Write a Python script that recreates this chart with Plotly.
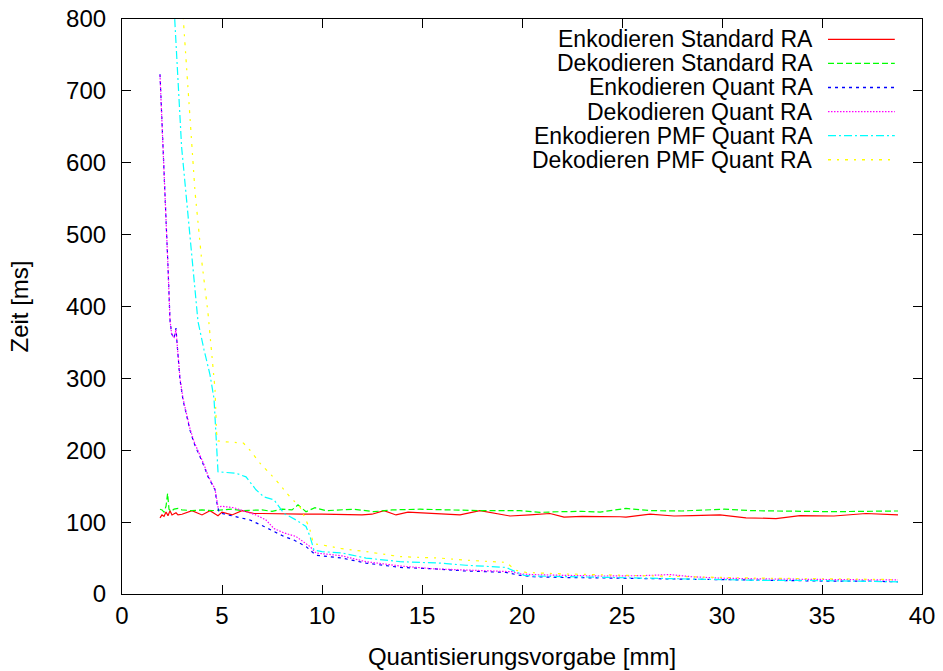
import plotly.graph_objects as go

# ---------------- data ----------------
enc_std_x = [1.9, 2.0, 2.1, 2.2, 2.3, 2.4, 2.5, 2.6, 2.7, 2.8, 3.0, 3.5, 4.0, 4.4, 4.8, 5.0, 5.5, 6.0, 6.2, 6.6,
             7.0, 8.0, 9.0, 10.0, 11.0, 12.0, 12.5, 13.1, 13.7, 14.3, 15.0, 16.0, 16.9, 17.9, 19.4, 20.4, 21.4,
             22.1, 23.0, 24.9, 25.2, 26.4, 27.6, 28.5, 29.9, 31.2, 32.7, 33.9, 35.6, 37.2, 38.8]
enc_std_y = [106, 110, 108, 114, 109, 116, 110, 112, 113, 110, 111, 116, 110, 116, 109, 114, 110, 116, 115, 112,
             112, 111, 111, 111, 110, 110, 111, 116, 110, 114, 113, 111, 110, 116, 108.5, 110, 112,
             107, 108, 107.5, 107, 111, 108.5, 109, 110, 106, 105, 109, 108.5, 112, 110]

dec_std_x = [1.9, 2.0, 2.1, 2.2, 2.28, 2.35, 2.45, 2.6, 2.8, 3.0, 3.5, 4.0, 4.5, 5.0, 5.5, 6.0, 6.5, 7.0, 7.5,
             8.0, 8.5, 8.8, 9.2, 9.65, 10.2, 11.0, 11.6, 12.6, 13.5, 14.9, 16.0, 17.9, 19.9, 20.9, 21.9, 23.0,
             23.9, 25.2, 26.4, 28.0, 30.1, 31.5, 32.7, 34.0, 35.6, 37.0, 38.8]
dec_std_y = [118, 117, 114, 122, 140, 118, 115, 118, 119, 117, 116, 117, 116, 117, 118, 116, 116, 117, 115,
             118, 117, 124, 114.5, 120, 116, 117, 118, 114.5, 117, 118, 117, 116, 116, 113.6, 114.5, 115,
             114, 119, 116, 115.5, 118, 116, 115.5, 115, 114.5, 115, 115.5]

enc_quant_x = [1.9, 2.0, 2.1, 2.2, 2.3, 2.4, 2.48, 2.6, 2.7, 2.75, 2.9, 3.05, 3.2, 3.4, 3.6, 3.9, 4.1, 4.3, 4.5,
               4.65, 4.75, 4.85, 5.0, 5.3, 5.7, 6.4, 7.1, 7.7, 8.1, 8.6, 9.2, 9.7, 10.4, 11.0, 12.2, 13.9,
               15.6, 17.2, 19.2, 19.9, 20.6, 22.0, 24.9, 27.0, 29.0, 31.0, 33.0, 35.0, 37.0, 38.8]
enc_quant_y = [723, 660, 594, 540, 455, 381, 362, 356, 370, 350, 298, 270, 250, 228, 210, 191, 178, 163, 152,
               145, 126, 114, 112, 110, 107, 103, 94, 85, 80, 75, 66, 54, 52, 50, 43, 37,
               35, 32, 30, 26, 24, 23, 22, 21, 20, 19, 18.5, 18, 18, 17]

dec_quant_x = [1.9, 2.0, 2.1, 2.2, 2.3, 2.4, 2.48, 2.6, 2.7, 2.75, 2.9, 3.05, 3.2, 3.4, 3.6, 3.9, 4.1, 4.3, 4.5,
               4.65, 4.8, 5.0, 5.6, 6.2, 6.7, 7.2, 7.6, 8.1, 8.7, 9.4, 9.7, 10.4, 11.0, 12.2, 13.9, 15.6,
               17.2, 18.5, 19.5, 19.9, 20.5, 22.0, 24.0, 26.0, 27.4, 28.5, 30.0, 32.0, 34.0, 36.0, 38.8]
dec_quant_y = [722, 659, 594, 540, 455, 381, 362, 356, 368, 350, 300, 272, 252, 230, 212, 193, 180, 165, 154,
               146, 121, 122, 120, 114, 110, 103, 91, 85, 80, 66, 57, 55, 53, 45, 39, 35,
               33, 32, 31, 28, 27, 26, 25, 25.5, 27, 24, 22, 21, 20, 20, 19.5]

enc_pmf_x = [1.9, 2.2, 2.5, 2.65, 2.98, 3.23, 3.4, 3.8, 4.1, 4.4, 4.6, 4.72, 4.8, 5.7, 6.2, 6.7, 7.1, 7.6, 8.1,
             8.7, 9.2, 9.4, 9.6, 10.0, 11.0, 12.2, 13.9, 15.9, 17.2, 19.2, 20.1, 20.6, 22.6, 25.2, 28.0, 30.0,
             32.0, 34.0, 36.0, 38.8]
enc_pmf_y = [1200, 1000, 870, 798, 622, 548, 497, 379, 340, 305, 272, 220, 170, 168, 163, 145, 135, 131, 112,
             103, 94, 80, 61, 59, 57, 50, 45, 43, 40, 37, 26, 25, 24, 22, 21, 20,
             19, 19, 18, 17]

dec_pmf_x = [1.9, 2.3, 2.7, 3.07, 3.4, 3.65, 4.0, 4.3, 4.65, 4.73, 4.8, 5.07, 6.07, 6.4, 6.9, 7.7, 8.4, 8.9,
             9.2, 9.4, 9.57, 10.07, 11.0, 12.2, 13.9, 15.9, 17.2, 19.2, 19.7, 20.2, 22.0, 24.0, 25.9, 28.0,
             30.0, 32.0, 34.0, 36.0, 38.8]
dec_pmf_y = [1500, 1200, 950, 798, 659, 560, 460, 391, 285, 224, 213, 212, 210, 200, 182, 158.5, 135, 121,
             103, 89, 70, 68, 63, 59, 52, 50, 47, 44, 33, 30, 28, 27, 26, 25,
             23, 22, 21, 21, 20]

series_names = ["Enkodieren Standard RA", "Dekodieren Standard RA", "Enkodieren Quant RA",
                "Dekodieren Quant RA", "Enkodieren PMF Quant RA", "Dekodieren PMF Quant RA"]
series_x = [enc_std_x, dec_std_x, enc_quant_x, dec_quant_x, enc_pmf_x, dec_pmf_x]
series_y = [enc_std_y, dec_std_y, enc_quant_y, dec_quant_y, enc_pmf_y, dec_pmf_y]

# ---------------- styles ----------------
colors = ["#ff0000", "#00ff00", "#0000ff", "#ff00ff", "#00ffff", "#ffff00"]
dashes = ["solid", "6px,3px", "3px,4px", "1.5px,1.5px", "8px,3px,2px,3px", "3px,6px,2px,6px"]
FONT = "Liberation Sans, Arial, Helvetica, sans-serif"
FS = 24
LEG_FS = 23

fig = go.Figure()
for name, xs, ys, c, d in zip(series_names, series_x, series_y, colors, dashes):
    fig.add_trace(go.Scatter(x=xs, y=ys, mode="lines", name=name,
                             line=dict(color=c, width=1.2, dash=d), showlegend=False))

# gnuplot-style key: right-aligned text with sample line on its right
row0, row_step = 0.9647, 0.0419
for i, (name, c, d) in enumerate(zip(series_names, colors, dashes)):
    yy = row0 - i * row_step
    fig.add_annotation(x=0.8645, y=yy, xref="paper", yref="paper", text=name, showarrow=False,
                       xanchor="right", yanchor="middle", borderpad=0,
                       font=dict(family=FONT, size=LEG_FS, color="black"))
    fig.add_shape(type="line", xref="paper", yref="paper", x0=0.8825, x1=0.966, y0=yy, y1=yy,
                  line=dict(color=c, width=1.3, dash=d))

axis_common = dict(showline=True, linecolor="black", linewidth=1.2, mirror="allticks", ticks="inside",
                   ticklen=9, tickcolor="black", tickwidth=1.2, showgrid=False, zeroline=False,
                   automargin=False, tickfont=dict(family=FONT, size=FS, color="black"))

fig.update_xaxes(range=[0, 40], dtick=5, tick0=0,
                 title=dict(text="Quantisierungsvorgabe [mm]", font=dict(family=FONT, size=FS, color="black"),
                            standoff=20),
                 **axis_common)
fig.update_yaxes(range=[0, 800], dtick=100, tick0=0, ticklabelstandoff=10,
                 title=dict(text="Zeit [ms]", font=dict(family=FONT, size=FS, color="black"), standoff=30),
                 **axis_common)

fig.update_layout(width=943, height=671, margin=dict(l=122, r=21, t=19, b=77),
                  plot_bgcolor="white", paper_bgcolor="white",
                  font=dict(family=FONT, size=FS, color="black"))

fig.write_html("out.html")
